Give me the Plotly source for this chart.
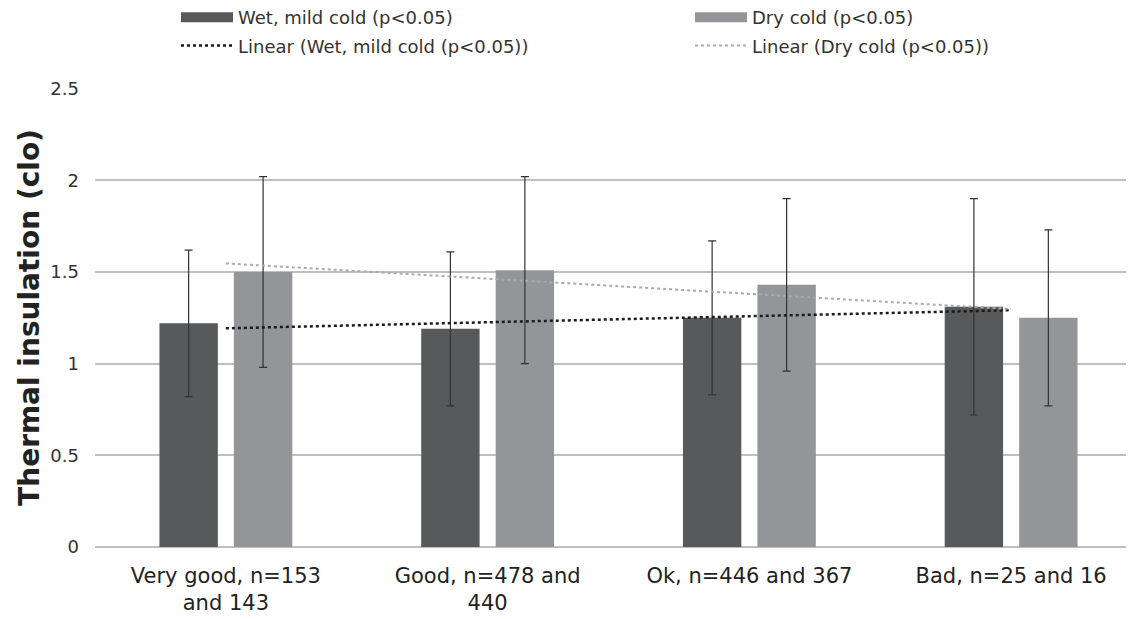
import numpy as np
import plotly.graph_objects as go

categories = ["Very good, n=153<br>and 143", "Good, n=478 and<br>440", "Ok, n=446 and 367", "Bad, n=25 and 16"]
wet_values = [1.22, 1.19, 1.25, 1.31]
wet_errors = [0.40, 0.42, 0.42, 0.59]
dry_values = [1.50, 1.51, 1.43, 1.25]
dry_errors = [0.52, 0.51, 0.47, 0.48]
y_ticks = [0, 0.5, 1, 1.5, 2, 2.5]
y_tick_labels = ["0", "0.5", "1", "1.5", "2", "2.5"]

FONT = "DejaVu Sans"
DARK = "#58595b"
LIGHT = "#939598"

idx = np.arange(1, len(categories) + 1)
wet_fit = np.polyval(np.polyfit(idx, wet_values, 1), idx)
dry_fit = np.polyval(np.polyfit(idx, dry_values, 1), idx)

fig = go.Figure()
fig.add_trace(go.Bar(
    x=categories, y=wet_values, name="Wet, mild cold (p<0.05)",
    marker=dict(color=DARK, line=dict(width=0)),
    error_y=dict(type="data", array=wet_errors, color="#333333", thickness=1.2, width=4),
    showlegend=False,
))
fig.add_trace(go.Bar(
    x=categories, y=dry_values, name="Dry cold (p<0.05)",
    marker=dict(color=LIGHT, line=dict(width=0)),
    error_y=dict(type="data", array=dry_errors, color="#333333", thickness=1.2, width=4),
    showlegend=False,
))
# legend swatches (wide rectangles, like the reference)
fig.add_trace(go.Scatter(
    x=[None], y=[None], mode="lines", name="Wet, mild cold (p<0.05)",
    line=dict(color=DARK, width=10), legend="legend", legendgroup="a",
))
fig.add_trace(go.Scatter(
    x=[None], y=[None], mode="lines", name="Dry cold (p<0.05)",
    line=dict(color=LIGHT, width=10), legend="legend2", legendgroup="c",
))
fig.add_trace(go.Scatter(
    x=[categories[0], categories[-1]], y=[wet_fit[0], wet_fit[-1]],
    mode="lines", name="Linear (Wet, mild cold (p<0.05))",
    line=dict(color="#1a1a1a", width=2.5, dash="dot"),
    legend="legend", legendgroup="b",
))
fig.add_trace(go.Scatter(
    x=[categories[0], categories[-1]], y=[dry_fit[0], dry_fit[-1]],
    mode="lines", name="Linear (Dry cold (p<0.05))",
    line=dict(color="#ababab", width=2, dash="dot"),
    legend="legend2", legendgroup="d",
))

# the page adds an 8px body margin, so the figure's margins are set 8px smaller
PLOT_H = 619 - 80 - 80
legend_common = dict(
    orientation="v", xanchor="left", yanchor="top",
    font=dict(family=FONT, size=18, color="#333333"),
    bgcolor="rgba(0,0,0,0)", tracegroupgap=2,
    itemwidth=52,
)

fig.update_layout(
    width=1134, height=619,
    margin=dict(l=87, r=0, t=80, b=80, autoexpand=False),
    paper_bgcolor="white", plot_bgcolor="white",
    barmode="group", bargap=0.431, bargroupgap=0.216,
    font=dict(family=FONT, color="#333333"),
    legend=dict(x=(176 - 95) / 1047, y=1 + 89 / PLOT_H, **legend_common),
    legend2=dict(x=(690 - 95) / 1047, y=1 + 89 / PLOT_H, **legend_common),
    xaxis=dict(
        type="category", range=[-0.5, 3.5],
        showgrid=False, showline=False, ticks="",
        tickfont=dict(family=FONT, size=21, color="#222222"),
        ticklabelstandoff=14,
    ),
    yaxis=dict(
        range=[0, 2.504], tickvals=y_ticks, ticktext=y_tick_labels,
        showgrid=True, gridcolor="#bfbfbf", gridwidth=1.5,
        zeroline=True, zerolinecolor="#bfbfbf", zerolinewidth=1.5,
        showline=False, ticks="", ticklen=0, ticklabelstandoff=15,
        tickfont=dict(family=FONT, size=18, color="#333333"),
        title=dict(text="<b>Thermal insulation (clo)</b>",
                   font=dict(family=FONT, size=28, color="#222222"), standoff=2),
    ),
)

fig.write_html("out.html")
